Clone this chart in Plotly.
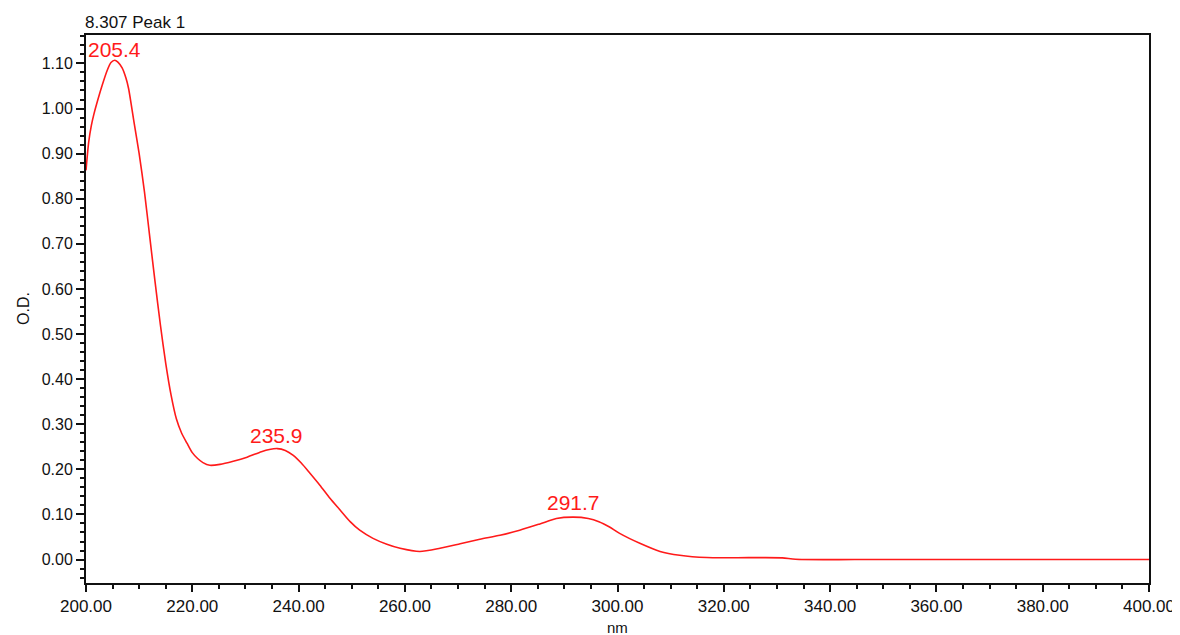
import plotly.graph_objects as go

# Spectrum (wavelength nm, optical density)
wavelength = [200.0, 200.5, 201.0, 201.5, 202.0, 203.0, 204.0, 204.7, 205.4, 206.0,
              206.8, 207.5, 208.0, 208.5, 209.0, 210.0, 211.0, 212.0, 213.0, 214.0,
              215.0, 216.0, 217.0, 218.0, 219.0, 220.0, 221.0, 222.0, 223.3, 225.2,
              227.7, 230.3, 233.0, 234.5, 236.0, 237.5, 239.0, 240.5, 242.1, 244.0,
              245.9, 247.8, 249.7, 251.5, 254.0, 256.6, 259.1, 262.8, 266.6, 270.4,
              274.1, 277.9, 281.6, 285.4, 288.5, 291.7, 294.5, 296.5, 298.5, 300.4,
              304.2, 308.0, 311.7, 316.8, 324.9, 331.0, 333.5, 345.0, 375.0, 400.0]
od = [0.863, 0.925, 0.962, 0.988, 1.010, 1.050, 1.085, 1.102, 1.107, 1.103,
      1.090, 1.068, 1.045, 1.010, 0.972, 0.900, 0.815, 0.715, 0.615, 0.520,
      0.435, 0.365, 0.312, 0.280, 0.258, 0.237, 0.224, 0.215, 0.209, 0.211,
      0.218, 0.227, 0.239, 0.244, 0.246, 0.242, 0.231, 0.214, 0.192, 0.165,
      0.136, 0.110, 0.084, 0.065, 0.047, 0.034, 0.025, 0.018, 0.025, 0.035,
      0.045, 0.054, 0.065, 0.079, 0.091, 0.094, 0.091, 0.084, 0.072, 0.058,
      0.036, 0.018, 0.0095, 0.0044, 0.0042, 0.0038, 0.0005, 0.0, 0.0, 0.0]

peak_labels = ["205.4", "235.9", "291.7"]
peak_x = [205.4, 235.9, 291.7]
peak_y = [1.107, 0.246, 0.094]
peak_shift = [-3, 0, 1]

x_ticks = [200, 220, 240, 260, 280, 300, 320, 340, 360, 380, 400]
y_ticks = [0.0, 0.1, 0.2, 0.3, 0.4, 0.5, 0.6, 0.7, 0.8, 0.9, 1.0, 1.1]

title_text = "8.307 Peak 1"
x_title = "nm"
y_title = "O.D."

RED = "#ff1a1a"
FONT = "Liberation Sans, Arial, sans-serif"

fig = go.Figure()
fig.add_trace(go.Scatter(x=wavelength, y=od, mode="lines",
                         line=dict(color=RED, width=1.6, shape="spline", smoothing=0.7),
                         hoverinfo="skip"))

for t, px, py, s in zip(peak_labels, peak_x, peak_y, peak_shift):
    fig.add_annotation(x=px, y=py, xref="x", yref="y", text=t, showarrow=False,
                       xanchor="center", yanchor="bottom", yshift=s,
                       font=dict(family=FONT, size=21, color=RED))

fig.add_annotation(xref="paper", yref="paper", x=0, y=1, xanchor="left", yanchor="bottom",
                   yshift=1, xshift=-3, text=title_text, showarrow=False,
                   font=dict(family=FONT, size=17, color="#111"))
fig.add_annotation(xref="paper", yref="paper", x=0, y=0.5, xshift=-63, xanchor="center",
                   yanchor="middle", textangle=-90, text=y_title, showarrow=False,
                   font=dict(family=FONT, size=16, color="#111"))
fig.add_annotation(xref="paper", yref="paper", x=0.5, y=0, yshift=-44, xanchor="center",
                   yanchor="middle", text=x_title, showarrow=False,
                   font=dict(family=FONT, size=15, color="#111"))

axis_common = dict(showgrid=False, zeroline=False, showline=True, linecolor="#111",
                   linewidth=2, mirror=True, ticks="outside", tickcolor="#111",
                   tickwidth=2, tickformat=".2f", automargin=False,
                   tickfont=dict(family=FONT, size=16, color="#111"))

fig.update_xaxes(range=[200, 400], tickvals=x_ticks, ticklen=7,
                 minor=dict(dtick=5, ticklen=4, ticks="outside", tickcolor="#111", tickwidth=2),
                 **{**axis_common, "tickfont": dict(family=FONT, size=17, color="#111")})
fig.update_yaxes(range=[-0.052, 1.163], tickvals=y_ticks, ticklen=8,
                 minor=dict(dtick=0.02, tick0=0, ticklen=4, ticks="outside", tickcolor="#111", tickwidth=2),
                 **axis_common)

# page body has an 8px default margin, so the figure is offset by 8px
fig.update_layout(width=1172, height=627, margin=dict(l=78, r=31, t=27, b=52),
                  plot_bgcolor="white", paper_bgcolor="white", showlegend=False)

fig.write_html("out.html")
